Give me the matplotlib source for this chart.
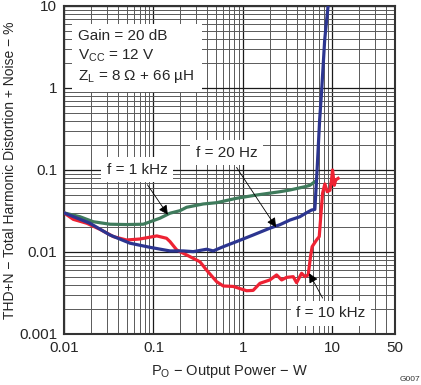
import matplotlib
matplotlib.use('Agg')
import matplotlib.pyplot as plt
from matplotlib.ticker import LogLocator, NullFormatter, FixedLocator

plt.rcParams['font.family'] = ['Liberation Sans', 'DejaVu Sans']
plt.rcParams['mathtext.fontset'] = 'custom'
plt.rcParams['mathtext.rm'] = 'Liberation Sans'
plt.rcParams['mathtext.it'] = 'Liberation Sans'

# data (W, %)
green_x = [0.01, 0.0151, 0.0212, 0.0327, 0.05, 0.077, 0.118, 0.153, 0.198, 0.235,
           0.36, 0.508, 0.85, 1.42, 2.59, 3.35, 4.93, 5.6, 6.37]
green_y = [0.030, 0.0269, 0.0234, 0.0218, 0.0216, 0.0218, 0.0258, 0.0297, 0.0319, 0.0351,
           0.0385, 0.0399, 0.0452, 0.0495, 0.0543, 0.057, 0.0625, 0.065, 0.072]

blue_x = [0.01, 0.0195, 0.0327, 0.0546, 0.0914, 0.153, 0.215, 0.279, 0.393, 0.466,
          0.603, 0.85, 1.30, 2.0, 2.59, 3.35, 4.33, 5.15, 5.86, 6.37,
          6.75, 7.2, 7.6, 8.2, 8.6, 9.0]
blue_y = [0.030, 0.0224, 0.0161, 0.0128, 0.0114, 0.0103, 0.0103, 0.0101, 0.0108, 0.0103,
          0.0116, 0.0134, 0.0161, 0.0195, 0.0215, 0.0245, 0.0269, 0.0301, 0.0325, 0.033,
          0.1, 0.4, 0.95, 3.8, 6.5, 10.5]

red_x = [0.01, 0.0127, 0.018, 0.0252, 0.0356, 0.05, 0.0706, 0.109, 0.14, 0.153,
         0.182, 0.198, 0.256, 0.331, 0.393, 0.508, 0.603, 0.78, 1.10, 1.30,
         1.55, 2.0, 2.38, 2.71, 3.08, 3.65, 3.98, 4.53, 4.93, 5.37,
         5.7, 5.94, 6.65, 7.13, 7.77, 8.24, 8.75, 9.38, 9.78, 10.05,
         10.5, 10.9, 11.6]
red_y = [0.030, 0.025, 0.0224, 0.0189, 0.0154, 0.014, 0.0144, 0.0157, 0.0147, 0.0134,
         0.0106, 0.0101, 0.00877, 0.0076, 0.0060, 0.00435, 0.00385, 0.0038, 0.00337, 0.0034,
         0.00415, 0.00456, 0.00525, 0.00456, 0.0049, 0.0050, 0.00422, 0.0055, 0.0050, 0.00525,
         0.00877, 0.0116, 0.014, 0.0154, 0.052, 0.0675, 0.0543, 0.0565, 0.0755, 0.1,
         0.065, 0.0755, 0.079]

x_ticks = [0.01, 0.1, 1, 10, 50]
x_labels = ['0.01', '0.1', '1', '10', '50']
y_ticks = [0.001, 0.01, 0.1, 1, 10]
y_labels = ['0.001', '0.01', '0.1', '1', '10']

fig = plt.figure(figsize=(4.21, 3.85), dpi=100)
ax = fig.add_axes([0.152, 0.1325, 0.786, 0.852])
ax.set_xscale('log')
ax.set_yscale('log')
ax.set_xlim(0.01, 50)
ax.set_ylim(0.001, 10)

# grid
ax.xaxis.set_major_locator(FixedLocator(x_ticks))
ax.yaxis.set_major_locator(FixedLocator(y_ticks))
ax.xaxis.set_minor_locator(LogLocator(base=10, subs=range(2, 10)))
ax.yaxis.set_minor_locator(LogLocator(base=10, subs=range(2, 10)))
ax.xaxis.set_minor_formatter(NullFormatter())
ax.yaxis.set_minor_formatter(NullFormatter())
ax.set_xticklabels(x_labels)
ax.set_yticklabels(y_labels)
ax.grid(which='major', color='0.1', lw=0.9)
ax.grid(which='minor', color='0.35', lw=0.7)
ax.tick_params(which='both', length=0, labelsize=11, colors='0.15', pad=5)
for s in ax.spines.values():
    s.set_linewidth(1.5)
    s.set_color('0.2')

ax.plot(green_x, green_y, color='#3f7b5c', lw=2.3, zorder=3)
ax.plot(red_x, red_y, color='#ee2233', lw=2.3, zorder=3)
ax.plot(blue_x, blue_y, color='#2c3590', lw=2.3, zorder=4)

# conditions box
ax.text(0.0145, 5.2, 'Gain = 20 dB\nV$_\\mathrm{CC}$ = 12 V\nZ$_\\mathrm{L}$ = 8 \u03a9 + 66 \u00b5H',
        fontsize=11, color='0.15', va='top', ha='left', linespacing=1.35, zorder=5,
        bbox=dict(facecolor='white', edgecolor='none', pad=5))

bbox = dict(facecolor='white', edgecolor='none', pad=4)
arrow = dict(arrowstyle='-|>', color='k', lw=0.6, mutation_scale=14, shrinkA=2, shrinkB=0)
ax.annotate('f = 1 kHz', xy=(0.145, 0.0285), xytext=(0.066, 0.1),
            fontsize=11, color='0.15', ha='center', va='center', bbox=bbox,
            arrowprops=arrow, zorder=5)
ax.annotate('f = 20 Hz', xy=(2.35, 0.02), xytext=(0.66, 0.163),
            fontsize=11, color='0.15', ha='center', va='center', bbox=bbox,
            arrowprops=arrow, zorder=5)
ax.annotate('f = 10 kHz', xy=(5.5, 0.0055), xytext=(9.6, 0.0018),
            fontsize=11, color='0.15', ha='center', va='center', bbox=bbox,
            arrowprops=arrow, zorder=5)

ax.set_xlabel('P$_\\mathrm{O}$ \u2212 Output Power \u2212 W', fontsize=10.5, color='0.15', labelpad=6)
ax.set_ylabel('THD+N \u2212 Total Harmonic Distortion + Noise \u2212 %', fontsize=10,
              color='0.15', va='center')
ax.yaxis.set_label_coords(-0.164, 0.5)
fig.text(0.998, 0.004, 'G007', fontsize=6, color='0.2', ha='right', va='bottom')

fig.savefig('out.png', dpi=100)
